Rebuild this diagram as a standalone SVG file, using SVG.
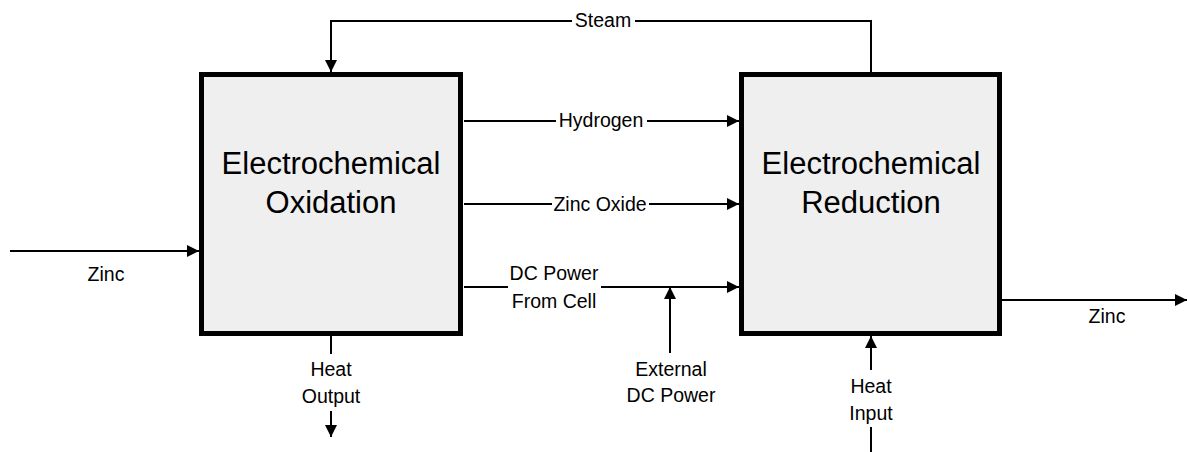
<svg xmlns="http://www.w3.org/2000/svg" width="1187" height="452" viewBox="0 0 1187 452">
<style>
.box{fill:#efefef;stroke:#000;stroke-width:5}
.ln{fill:none;stroke:#000;stroke-width:2}
.t{font-family:"Liberation Sans",Arial,sans-serif;fill:#000;text-anchor:middle}
.big{font-size:31px}
.sm{font-size:19.5px}
</style>
<defs>
<marker id="ah" markerUnits="userSpaceOnUse" markerWidth="12" markerHeight="12" refX="12" refY="6" orient="auto">
<path d="M0,0 L12,6 L0,12 z" fill="#000"/>
</marker>
</defs>
<rect width="1187" height="452" fill="#fff"/>
<g id="connectors">
<path class="ln" d="M871,72 V21 H635 M572,21 H331 V72" marker-end="url(#ah)"/>
<path class="ln" d="M464,121 H556"/>
<path class="ln" d="M647,121 H739" marker-end="url(#ah)"/>
<path class="ln" d="M464,204 H552"/>
<path class="ln" d="M649,204 H739" marker-end="url(#ah)"/>
<path class="ln" d="M464,287 H508"/>
<path class="ln" d="M601,287 H739" marker-end="url(#ah)"/>
<path class="ln" d="M670,353 V287" marker-end="url(#ah)"/>
<path class="ln" d="M10,251 H199" marker-end="url(#ah)"/>
<path class="ln" d="M331,336 V354"/>
<path class="ln" d="M331,411 V437" marker-end="url(#ah)"/>
<path class="ln" d="M1002,300 H1187" marker-end="url(#ah)"/>
<path class="ln" d="M871,370 V336" marker-end="url(#ah)"/>
<path class="ln" d="M871,427 V452"/>
<text class="t sm" x="603" y="27">Steam</text>
<text class="t sm" x="601" y="127">Hydrogen</text>
<text class="t sm" x="600" y="211">Zinc Oxide</text>
<text class="t sm" x="554" y="280">DC Power</text>
<text class="t sm" x="554" y="308">From Cell</text>
<text class="t sm" x="106" y="281">Zinc</text>
<text class="t sm" x="331" y="376">Heat</text>
<text class="t sm" x="331" y="403">Output</text>
<text class="t sm" x="671" y="376">External</text>
<text class="t sm" x="671" y="402">DC Power</text>
<text class="t sm" x="871" y="393">Heat</text>
<text class="t sm" x="871" y="420">Input</text>
<text class="t sm" x="1107" y="323">Zinc</text>
</g>
<g id="oxidation">
<rect class="box" x="201.5" y="74.5" width="259" height="259"/>
<text class="t big" x="331" y="174">Electrochemical</text>
<text class="t big" x="331" y="213">Oxidation</text>
</g>
<g id="reduction">
<rect class="box" x="741.5" y="74.5" width="258" height="259"/>
<text class="t big" x="871" y="174">Electrochemical</text>
<text class="t big" x="871" y="213">Reduction</text>
</g>
</svg>
